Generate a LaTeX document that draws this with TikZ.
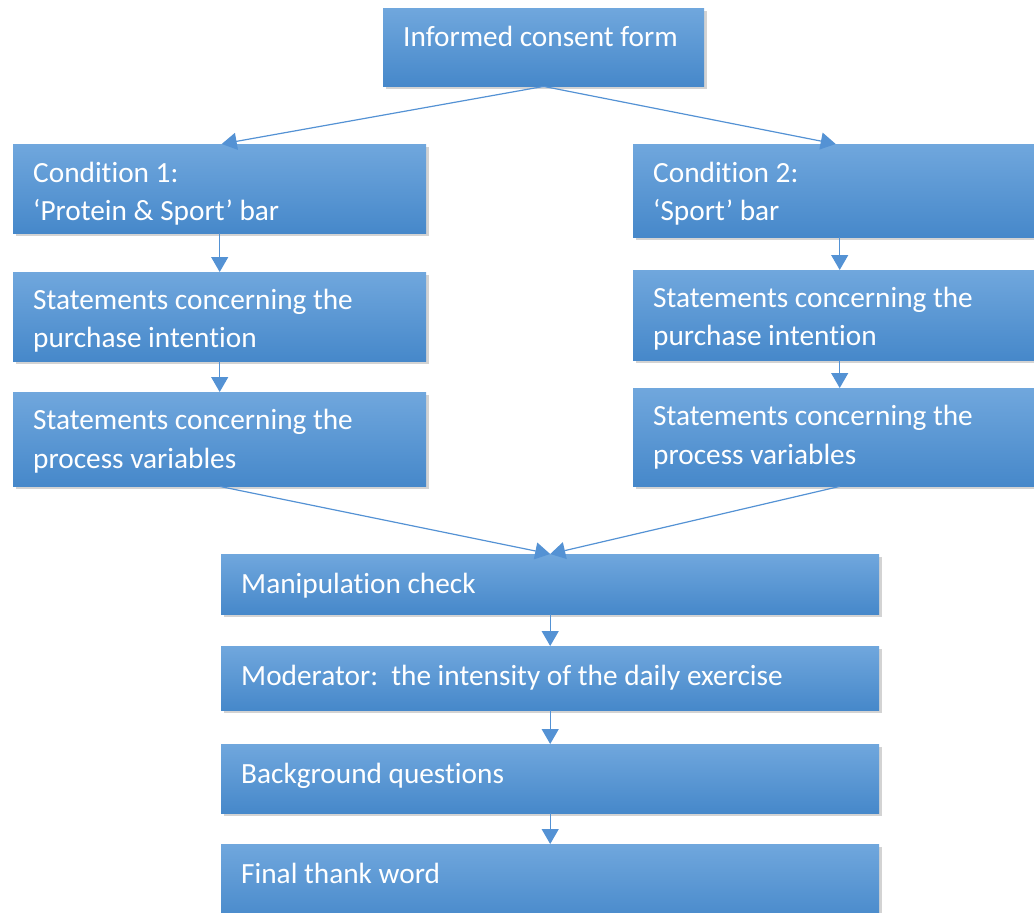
\documentclass[tikz,border=0pt]{standalone}
\usepackage{fontspec}
\setmainfont{Carlito}[Ligatures=NoCommon]
\usetikzlibrary{arrows.meta, positioning, shadows}
\definecolor{boxtop}{RGB}{112,167,221}
\definecolor{boxmid}{RGB}{88,154,218}
\definecolor{boxbot}{RGB}{70,136,202}
\definecolor{linkblue}{RGB}{84,146,212}

\begin{document}
\begin{tikzpicture}[
    x=1pt, y=-1pt,
    box/.style={rectangle, anchor=north west, inner sep=0pt, draw=none, top color=boxtop, middle color=boxmid, bottom color=boxbot, drop shadow={shadow xshift=2.5pt, shadow yshift=-3pt, opacity=0.35}},
    widebox/.style={minimum width=413pt},
    longbox/.style={minimum width=658pt},
    txt/.style={inner sep=0pt, align=left, text=white, font=\fontsize{29.3}{38.5}\selectfont, execute at begin node=\strut},
    arrow/.style={-{Triangle[width=17pt,length=15pt]}, line width=1.2pt, linkblue}
]
\useasboundingbox (0,0) rectangle (1034,913);

% Start
\node[box, minimum width=321pt, minimum height=78pt] (consent) at (383,8) {};
\node[txt, below right=11.5pt and 20pt of consent.north west] (consentText) {Informed consent form};

% Left branch
\node[box, widebox, minimum height=89pt] (cond1) at (13,144) {};
\node[box, widebox, minimum height=89pt] (purch1) at (13,272) {};
\node[box, widebox, minimum height=94pt] (proc1) at (13,392) {};
\node[txt, below right=17.5pt and 20pt of cond1.north west] (cond1Text) {Condition 1:\\‘Protein \& Sport’ bar};
\node[txt, below right=16.5pt and 20pt of purch1.north west] (purch1Text) {Statements concerning the\\purchase intention};
\node[txt, below right=17pt and 20pt of proc1.north west] (proc1Text) {Statements concerning the\\process variables};

% Right branch
\node[box, widebox, minimum height=93pt] (cond2) at (633,144) {};
\node[box, widebox, minimum height=90pt] (purch2) at (633,270) {};
\node[box, widebox, minimum height=98pt] (proc2) at (633,388) {};
\node[txt, below right=17.5pt and 20pt of cond2.north west] (cond2Text) {Condition 2:\\‘Sport’ bar};
\node[txt, below right=16.5pt and 20pt of purch2.north west] (purch2Text) {Statements concerning the\\purchase intention};
\node[txt, below right=17pt and 20pt of proc2.north west] (proc2Text) {Statements concerning the\\process variables};

% Common part
\node[box, longbox, minimum height=60pt] (manip) at (221,554) {};
\node[box, longbox, minimum height=64pt] (moder) at (221,646) {};
\node[box, longbox, minimum height=69pt] (backg) at (221,744) {};
\node[box, longbox, minimum height=80pt] (thanks) at (221,844) {};
\node[txt, below right=12.3pt and 20pt of manip.north west] (manipText) {Manipulation check};
\node[txt, below right=12.3pt and 20pt of moder.north west] (moderText) {Moderator:~~the intensity of the daily exercise};
\node[txt, below right=12pt and 20pt of backg.north west] (backgText) {Background questions};
\node[txt, below right=12pt and 20pt of thanks.north west] (thanksText) {Final thank word};

% Arrows
\draw[arrow] (consent.south) -- ([xshift=2pt]cond1.north);
\draw[arrow] (consent.south) -- ([xshift=-4pt]cond2.north);
\draw[arrow] (cond1) -- (purch1);
\draw[arrow] (purch1) -- (proc1);
\draw[arrow] (cond2) -- (purch2);
\draw[arrow] (purch2) -- (proc2);
\draw[arrow] (proc1.south) -- (manip.north);
\draw[arrow] (proc2.south) -- (manip.north);
\draw[arrow] (manip) -- (moder);
\draw[arrow] (moder) -- (backg);
\draw[arrow] (backg) -- (thanks);

\end{tikzpicture}
\end{document}
